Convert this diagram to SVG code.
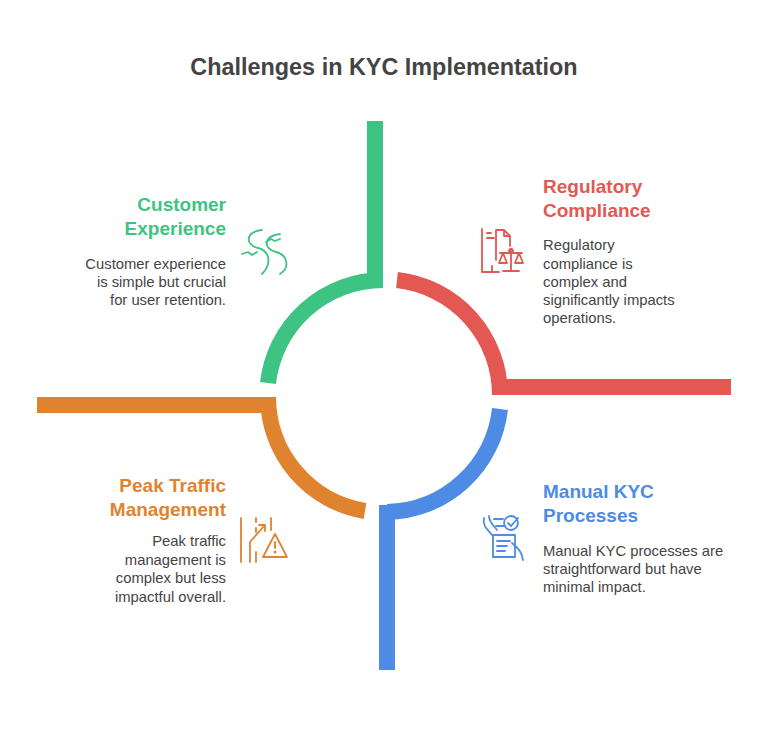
<svg xmlns="http://www.w3.org/2000/svg" width="768" height="732" viewBox="0 0 768 732">
<style>
.t{font-family:"Liberation Sans",Arial,sans-serif;font-weight:bold;font-size:19px}
.b{font-family:"Liberation Sans",Arial,sans-serif;font-size:14.8px;fill:#444}
.arc{fill:none;stroke-width:16}
.ic{fill:none;stroke-width:1.8;stroke-linecap:round;stroke-linejoin:round}
</style>
<rect width="768" height="732" fill="#fff"/>
<text x="384" y="75" text-anchor="middle" font-family="Liberation Sans,Arial,sans-serif" font-weight="bold" font-size="23.4" fill="#444">Challenges in KYC Implementation</text>
<g id="connectors">
<path class="arc" stroke="#3dc482" d="M268 383 A116 116 0 0 1 383 280"/>
<rect x="367" y="121" width="16" height="166" fill="#3dc482"/>
<path class="arc" stroke="#e35853" d="M397 280 A116 116 0 0 1 500 395"/>
<rect x="493" y="379" width="238" height="16" fill="#e35853"/>
<path class="arc" stroke="#4e8be5" d="M500 409 A116 116 0 0 1 387 512"/>
<rect x="379" y="505" width="16" height="165" fill="#4e8be5"/>
<path class="arc" stroke="#df832f" d="M365 511 A116 116 0 0 1 268 397"/>
<rect x="37" y="397" width="239" height="16" fill="#df832f"/>
</g>
<g id="customer">
<text class="t" fill="#3dc482" text-anchor="end"><tspan x="226" y="211">Customer</tspan><tspan x="226" y="235">Experience</tspan></text>
<text class="b" text-anchor="end"><tspan x="226" y="269">Customer experience</tspan><tspan x="226" y="287">is simple but crucial</tspan><tspan x="226" y="305">for user retention.</tspan></text>
<g class="ic" stroke="#3dc482">
<path d="M262 230 C245 232 245 245 258 248 C270 251 272 264 262 274"/>
<path d="M280 234 C263 236 263 249 276 252 C288 255 290 268 280 274"/>
<path d="M242 254 l6 -2 l4 3 l5 -3 M266 242 l5 -3 l4 2 l5 -2"/>
</g>
</g>
<g id="regulatory">
<text class="t" fill="#e35853"><tspan x="543" y="193">Regulatory</tspan><tspan x="543" y="217">Compliance</tspan></text>
<text class="b"><tspan x="543" y="250">Regulatory</tspan><tspan x="543" y="269">compliance is</tspan><tspan x="543" y="287">complex and</tspan><tspan x="543" y="305">significantly impacts</tspan><tspan x="543" y="323">operations.</tspan></text>
<g class="ic" stroke="#e35853">
<path d="M496 260 V230 H504 L510 236 V246 M504 230 V236 H510"/>
<path d="M487 233 H491 M487 238 H494 M492 266 V272 H499"/>
<path d="M482 229 V272 H492"/>
<path d="M511 249 V271 M503 271 H519 M500 253 H522 M503 253 L499 263 H507 Z M519 253 L515 263 H523 Z"/>
<circle cx="511" cy="251" r="2"/>
</g>
</g>
<g id="manual">
<text class="t" fill="#4e8be5"><tspan x="543" y="498">Manual KYC</tspan><tspan x="543" y="522">Processes</tspan></text>
<text class="b"><tspan x="543" y="556">Manual KYC processes are</tspan><tspan x="543" y="574">straightforward but have</tspan><tspan x="543" y="592">minimal impact.</tspan></text>
<g class="ic" stroke="#4e8be5">
<path d="M484 518 C482 526 488 530 493 536 M489 516 C489 522 494 526 497 530"/>
<path d="M494 519 H503 M496 526 H505"/>
<circle cx="511" cy="523" r="7"/><path d="M508 523 l3 3 l7 -8"/>
<path d="M493 535 H515 V557 H493 Z M497 541 H510 M497 546 H507 M497 551 H505"/>
<path d="M512 543 C518 548 522 552 523 560"/>
</g>
</g>
<g id="peak">
<text class="t" fill="#df832f" text-anchor="end"><tspan x="226" y="492">Peak Traffic</tspan><tspan x="226" y="516">Management</tspan></text>
<text class="b" text-anchor="end"><tspan x="226" y="546">Peak traffic</tspan><tspan x="226" y="565">management is</tspan><tspan x="226" y="583">complex but less</tspan><tspan x="226" y="602">impactful overall.</tspan></text>
<g class="ic" stroke="#df832f">
<path d="M241 518 V562 M271 518 V530"/>
<path d="M256 518 V522 M256 528 V532 M256 552 V562"/>
<path d="M250 562 V542 L265 525 M259 525 H265 V531"/>
<path d="M275 534 L287 557 H263 Z M275 542 V548"/>
<circle cx="275" cy="552" r="0.6"/>
</g>
</g>
</svg>
